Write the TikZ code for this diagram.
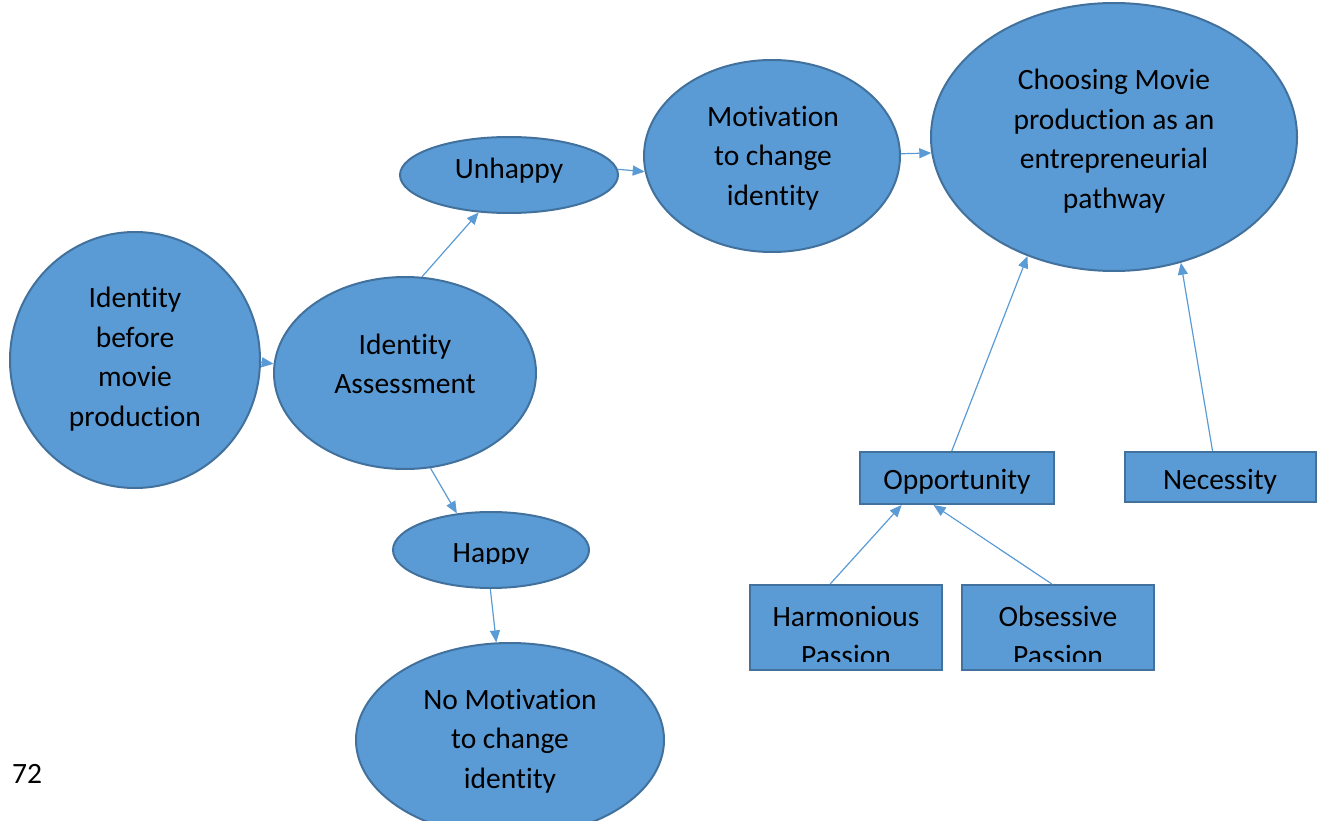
\documentclass[tikz,border=0pt]{standalone}
\usepackage{fontspec}
\setmainfont{Carlito}[Ligatures={NoCommon}]
\usetikzlibrary{shapes.geometric,arrows.meta}
\definecolor{fillblue}{HTML}{5B9BD5}
\definecolor{edgeblue}{HTML}{41719C}
\tikzset{
  oval/.style={ellipse, draw=edgeblue, fill=fillblue, line width=2pt, inner sep=0pt},
  box/.style={rectangle, draw=edgeblue, fill=fillblue, line width=2pt, inner sep=0pt},
  txt/.style={align=center, inner sep=0pt, font=\fontsize{29.5}{39.5}\selectfont, text=black},
  link/.style={draw=fillblue, line width=1.2pt, -{Triangle[length=12pt,width=10pt]}}
}
\begin{document}
\begin{tikzpicture}[x=1pt,y=-1pt]
\useasboundingbox (0,0) rectangle (1325,821);
% shapes
\node[oval, minimum width=250pt, minimum height=256pt] (ib) at (135,360) {};
\node[oval, minimum width=262pt, minimum height=192pt] (ia) at (405,373) {};
\node[oval, minimum width=218pt, minimum height=76pt] (un) at (509,175) {};
\node[oval, minimum width=256pt, minimum height=192pt] (mo) at (772,156) {};
\node[oval, minimum width=366pt, minimum height=268pt] (ch) at (1114,137) {};
\node[oval, minimum width=196pt, minimum height=76pt] (ha) at (491,550) {};
\node[oval, minimum width=308pt, minimum height=194pt] (nm) at (510,740) {};
\node[box, minimum width=194pt, minimum height=52pt] (op) at (957,478) {};
\node[box, minimum width=191pt, minimum height=50pt] (ne) at (1220,477) {};
\node[box, minimum width=192pt, minimum height=85pt] (hp) at (846,627.5) {};
\node[box, minimum width=192pt, minimum height=85pt] (ob) at (1058,627.5) {};
% texts
\node[txt] (ibt) at (135,359) {Identity\\before\\movie\\production};
\node[txt] (iat) at (405,364) {Identity\\Assessment};
\node[txt] (unt) at (509,171) {Unhappy};
\node[txt] (mot) at (773,158) {Motivation\\to change\\identity};
\node[txt] (cht) at (1114,141) {Choosing Movie\\production as an\\entrepreneurial\\pathway};
\begin{scope}
\clip (380,520) rectangle (600,563);
\node[txt] (hat) at (491,555) {Happy};
\end{scope}
\node[txt] (nmt) at (510,741) {No Motivation\\to change\\identity};
\node[txt] (opt) at (957,482) {Opportunity};
\node[txt] (net) at (1220,482) {Necessity};
\begin{scope}
\clip (752,590) rectangle (1152,661);
\node[txt] (hpt) at (846,636) {Harmonious\\Passion};
\node[txt] (obt) at (1058,636) {Obsessive\\Passion};
\end{scope}
\node[txt] (pg) at (27,774) {72};
% connectors
\draw[link] (ib.-1) -- (ia.176);
\draw[link] (ia.80.4) -- (un.231);
\draw[link] (ia.-75) -- (ha.133);
\draw[link] (un.3) -- (mo.187);
\draw[link] (mo.1) -- (ch.185);
\draw[link] (ha.-91) -- (nm.98);
\draw[link] (op.101) -- (ch.234.8);
\draw[link] (ne.106) -- (ch.-62.2);
\draw[link] (hp.110.6) -- (op.206.6);
\draw[link] (ob.98) -- (op.229.8);
\end{tikzpicture}
\end{document}
